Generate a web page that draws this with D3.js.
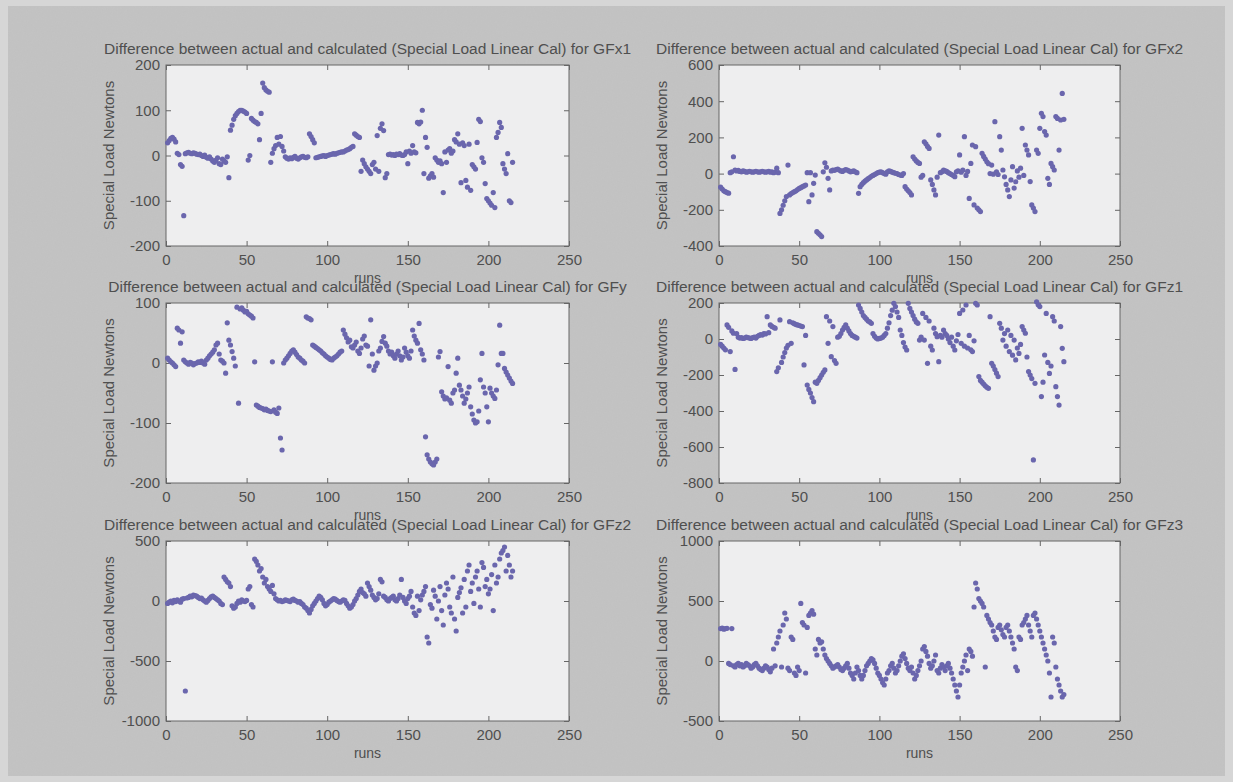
<!DOCTYPE html>
<html>
<head>
<meta charset="utf-8">
<script src="https://cdn.jsdelivr.net/npm/d3@7/dist/d3.min.js"></script>
<style>
  body { margin: 0; background: #d6d6d6; }
  svg { display: block; }
  text { font-family: "Liberation Sans", Arial, sans-serif; fill: #4f4f4f; }
</style>
</head>
<body>
<svg id="fig" width="1233" height="782"></svg>
<script>
// runs go 1..n on the x axis, one value per run
const xTicks = [0, 50, 100, 150, 200, 250];

const gfx1 = [
  28, 33, 38, 40, 36, 30, 5, 2, -20, -24,
  -133, 4, 6, 7, 5, 4, 6, 5, 3, 2,
  3, 0, -2, 1, -4, -6, -3, -8, -12, -15,
  -10, -5, -18, -20, -8, -12, -15, -3, -49, 56,
  67, 80, 88, 93, 97, 100, 100, 98, 96, 93,
  -10, 0, 82, 78, 75, 73, 70, 35, 93, 160,
  150, 145, 142, 140, -15, 5, 15, 22, 40, 25,
  42, 20, 10, -3, -6, -8, -5, -7, -4, -2,
  -6, -8, -5, -3, -2, -4, -5, -3, 48, 42,
  35, 28, -5, -4, -3, -2, -1, 0, -2, 0,
  1, 2, 3, 4, 3, 5, 6, 7, 8, 8,
  10, 12, 13, 15, 18, 20, 48, 45, 42, 40,
  -35, -10, -18, -25, -30, -35, -40, -20, -15, -30,
  44, -35, 60, 70, 55, -49, -40, 2, 3, 1,
  2, 0, 3, 2, 4, 1, 0, 2, 8, -18,
  10, 5, 22, 8, 6, 73, 70, 74, 100, -40,
  40, 18, -50, -45, -40, -48, -5, -10, -15, -12,
  -18, -82, 8, -15, 12, 15, 5, 10, 35, 30,
  48, 25, -60, 28, 22, -55, -70, 25, -77, -20,
  -25, -30, 29, 80, 75, -5, -15, -62, -95, -100,
  -105, -110, -82, -115, 40, 51, 73, 62, -18, -30,
  -40, 4, -100, -104, -15
];

const gfx2 = [
  -75, -85, -95, -100, -105, -108, 5, 10, 93, 20,
  15, 18, 12, 10, 15, 12, 8, 10, 12, 10,
  8, 10, 12, 10, 8, 10, 12, 10, 8, 10,
  12, 8, 10, 5, 8, 30, 5, -220, -200, -175,
  -150, -127, 47, -118, -110, -105, -100, -95, -88, -82,
  -78, -72, -68, -63, 5, -155, 5, -118, -54, -8,
  -321, -330, -338, -348, 10, 60, 35, -26, -90, 15,
  20, 18, 22, 25, 20, 15, 12, 18, 22, 20,
  15, 10, 12, 15, 10, 5, -109, -72, -60, -50,
  -42, -35, -28, -22, -15, -10, -5, 0, 5, 8,
  10, 5, 0, -3, 10, 15, 12, 8, 5, 2,
  0, -5, -8, -10, 0, -72, -85, -95, -105, -118,
  93, 80, 70, 62, 56, -20, -10, 176, 165, 150,
  139, -35, -60, -90, -118, -20, 213, 5, 10, 20,
  15, 12, 5, 0, -5, -10, -17, 10, 15, 103,
  8, 19, 204, -10, 12, -137, 56, 158, -173, 149,
  -190, -200, -210, 112, 95, 80, 65, 55, 0, 47,
  -3, 287, 10, -5, 204, 130, 20, -18, -60, -90,
  -127, -35, 38, -80, -45, 15, -20, 30, 250, -10,
  158, 130, 103, -44, -173, -190, -210, 130, 112, 250,
  333, 315, 232, 213, -26, -60, 56, 38, 20, 315,
  305, 130, 296, 443, 300
];

const gfy = [
  8, 5, 2, 0, -3, -6, 58, 55, 33, 52,
  5, 2, 0, -2, 1, 0, -3, -1, 0, 2,
  1, 3, 0, -2, 5, 8, 12, 15, 18, 22,
  30, 33, 15, 5, 3, 0, -17, 67, 38, 30,
  19, 8, -5, 93, -67, 90, 92, 88, 85, 86,
  82, 80, 78, 75, 2, -70, -72, -74, -75, -76,
  -78, -77, -79, -80, -81, 2, -78, -82, -84, -75,
  -125, -145, 0, 5, 8, 12, 16, 20, 22, 18,
  14, 10, 8, 5, 3, 0, 77, 75, 74, 72,
  30, 28, 26, 24, 22, 20, 17, 15, 12, 10,
  8, 6, 5, 8, 10, 12, 15, 18, 20, 55,
  48, 42, 35, 38, 27, 25, 30, 35, 20, 16,
  25, 40, 45, 30, 28, -5, 72, 15, -12, -5,
  0, 20, 25, 36, 44, 33, 28, 20, 15, 18,
  12, 8, 15, 20, 12, 5, 10, 25, 18, 12,
  8, 20, 55, 45, 38, 33, 66, 22, 15, 5,
  -123, -153, -160, -165, -168, -170, -165, -160, 10, 19,
  -48, -55, -60, -58, -6, -62, -67, -50, -45, -17,
  8, -37, -45, -55, -67, -60, -50, -40, -73, -85,
  -95, -100, -98, -80, -28, 16, -40, -50, -73, -98,
  -42, -50, -55, -59, -45, -3, 63, 16, 16, -9,
  -15, -20, -25, -30, -34
];

const gfz1 = [
  -30, -40, -50, -60, 78, 65, -70, 45, 32, -169,
  30, 10, 5, 8, 3, 5, 10, 8, 5, 3,
  8, 10, 5, 15, 20, 25, 22, 30, 28, 124,
  35, 78, 70, 65, 60, -181, -160, 106, -130, -100,
  -75, -50, -35, 96, -24, 90, 85, 80, 78, 75,
  72, 69, -144, 20, -256, -280, -300, -325, -348, -240,
  -246, -230, -215, -200, -185, -172, 124, -24, 100, -98,
  69, -120, -135, 10, 15, 30, 50, 65, 78, 60,
  45, 30, 20, 15, 10, 5, 189, 170, 150, 130,
  120, 110, 100, 95, 87, 30, 15, 5, 0, 3,
  5, 10, 20, 30, 60, 90, 130, 160, 198, 180,
  150, 120, 50, 20, -20, -45, -61, 198, 170, 150,
  130, 110, 95, 87, -6, 10, 142, -6, 120, -135,
  100, -40, -61, 60, 30, 13, -126, 20, 10, 50,
  30, 20, 0, -20, 10, -40, -61, -10, 25, 142,
  -24, 161, -40, 189, -50, 20, -60, -70, -10, 198,
  189, -209, -230, -240, -250, -260, -268, -274, 124, -135,
  -150, -170, -190, -209, 87, 60, -6, 30, -40, 50,
  -70, 20, -90, -6, -116, -50, -80, -30, 69, 50,
  32, -100, -181, -200, -220, -672, -246, 207, 190, 180,
  -320, -240, -89, 142, -130, -191, -150, 124, 100, -265,
  -320, -367, 69, -52, -126
];

const gfz2 = [
  -20, -10, 0, -15, 5, -5, 10, 0, -10, 15,
  20, -750, 25, 30, 40, 35, 50, 45, 40, 30,
  20, 25, 10, 0, -10, 5, 20, 35, 40, 30,
  20, 10, 0, -20, -30, 200, 180, 160, 150, 120,
  -40, -60, -50, -20, 0, -10, 10, 0, -5, 5,
  100, 120, -30, -50, 350, 330, 300, 250, 270, 200,
  150, 180, 120, 100, 80, 130, 60, 20, 10, 0,
  5, -5, 0, 10, 5, 0, -5, 10, 15, 5,
  0, -10, -5, -20, -30, -50, -60, -80, -100, -70,
  -40, -20, 0, 20, 40, 30, 10, -20, -40, -30,
  -10, 0, 10, 20, 15, 5, -5, -10, 0, 10,
  5, -20, -40, -60, -50, -30, 0, 20, 50, 80,
  100, 70, 60, 40, 150, 120, 90, 50, 30, 10,
  20, 60, 180, 160, 40, 30, 10, 0, 20, 30,
  40, 10, 0, 20, 50, 180, 30, 0, -20, 20,
  40, 80, -50, -100, -120, 40, -80, 10, 50, 80,
  120, -300, -350, -30, -60, 90, 40, -150, 0, 120,
  -80, -200, 50, 150, 100, -50, -100, 200, -150, -250,
  30, 70, 110, -100, 180, -50, 250, 300, 80, 150,
  -20, 200, 250, 100, -50, 320, 280, 120, 180, 60,
  100, 220, -80, 300, 150, 200, 350, 400, 420, 450,
  250, 380, 300, 200, 250
];

const gfz3 = [
  270, 275, 265, 270, 272, -20, -30, 270, -40, -50,
  -30, -20, -40, -30, -50, -40, -20, -30, -40, -60,
  -50, -30, -20, -40, -60, -70, -80, -60, -40, -50,
  -70, -90, -60, 100, -40, 150, 200, 250, -50, 300,
  400, 350, -60, -80, 200, 180, -100, -120, -50, -80,
  480, 320, 300, -100, 280, 380, 400, 420, 390, 100,
  50, 180, 150, 160, 100, 50, 20, 0, -20, -40,
  -60, -50, -40, -30, -50, -70, -80, -60, -40, -20,
  -60, -100, -120, -150, -100, -50, -80, -120, -150, -120,
  -80, -40, -20, 0, 20, 10, -20, -60, -100, -120,
  -150, -180, -200, -150, -100, -80, -40, -20, -60, -100,
  -80, -40, 0, 40, 60, 20, -20, -60, -80, -50,
  -100, -150, -120, -80, -40, 0, 100, 120, 80, 40,
  -20, -60, -40, 0, 50, -80, -100, -60, -30, -50,
  -80, -40, -20, -60, -100, -150, -200, -250, -300, -200,
  -100, -50, 0, 50, -80, 100, 80, 40, 450, 650,
  600, 520, 500, 480, 450, -50, 380, 350, 320, 300,
  250, 200, 180, 280, 300, 260, 220, 200, 280, 300,
  250, 200, 150, 100, -50, -80, 200, 180, 300, 320,
  350, 380, 300, 250, 200, 380, 400, 350, 300, 250,
  200, 150, 100, 50, 0, -100, -300, 200, 150, -50,
  -150, -200, -250, -300, -280
];

const names = ["GFx1", "GFx2", "GFy", "GFz1", "GFz2", "GFz3"];
const series = [gfx1, gfx2, gfy, gfz1, gfz2, gfz3];
const yDomains = [[-200, 200], [-400, 600], [-200, 100], [-800, 200], [-1000, 500], [-500, 1000]];
const yTickSets = [
  [-200, -100, 0, 100, 200],
  [-400, -200, 0, 200, 400, 600],
  [-200, -100, 0, 100],
  [-800, -600, -400, -200, 0, 200],
  [-1000, -500, 0, 500],
  [-500, 0, 500, 1000]
];

const svg = d3.select("#fig");

// scan grain for the gray figure area
const defs = svg.append("defs");
const grain = defs.append("filter").attr("id", "grain")
  .attr("x", 0).attr("y", 0).attr("width", 1).attr("height", 1);
grain.append("feTurbulence")
  .attr("type", "fractalNoise").attr("baseFrequency", 0.8)
  .attr("numOctaves", 2).attr("seed", 3).attr("result", "n");
grain.append("feColorMatrix").attr("in", "n").attr("type", "matrix")
  .attr("values", "0 0 0 0 0.45  0 0 0 0 0.45  0 0 0 0 0.45  0.9 0 0 0 -0.2");

svg.append("rect")
  .attr("x", 8).attr("y", 6)
  .attr("width", 1217).attr("height", 770)
  .attr("fill", "#c3c3c3");
svg.append("rect")
  .attr("x", 8).attr("y", 6)
  .attr("width", 1217).attr("height", 770)
  .attr("filter", "url(#grain)")
  .attr("opacity", 0.18);

const colX = [166, 719];
const colW = [403, 401];
const rowY = [65, 303, 541];
const rowH = [181, 180, 180];
const plain = d => String(d);

series.forEach((values, i) => {
  const col = i % 2, row = Math.floor(i / 2);
  const w = colW[col], h = rowH[row];
  const g = svg.append("g")
    .attr("transform", `translate(${colX[col]},${rowY[row]})`);

  const x = d3.scaleLinear().domain([0, 250]).range([0, w]);
  const y = d3.scaleLinear().domain(yDomains[i]).range([h, 0]);

  g.append("rect")
    .attr("width", w).attr("height", h)
    .attr("fill", "#eeeeef");

  g.append("g")
    .attr("transform", `translate(0,${h})`)
    .call(d3.axisBottom(x).tickValues(xTicks).tickFormat(plain).tickSize(-5).tickSizeOuter(0).tickPadding(8));
  g.append("g")
    .call(d3.axisTop(x).tickValues(xTicks).tickSize(-5).tickSizeOuter(0).tickFormat(""));
  g.append("g")
    .call(d3.axisLeft(y).tickValues(yTickSets[i]).tickFormat(plain).tickSize(-5).tickSizeOuter(0).tickPadding(6));
  g.append("g")
    .attr("transform", `translate(${w},0)`)
    .call(d3.axisRight(y).tickValues(yTickSets[i]).tickSize(-5).tickSizeOuter(0).tickFormat(""));

  g.selectAll(".domain").remove();
  g.selectAll(".tick line").attr("stroke", "#666");
  g.selectAll(".tick text")
    .style("font-size", "15px")
    .attr("fill", "#4f4f4f");

  g.append("rect")
    .attr("width", w).attr("height", h)
    .attr("fill", "none")
    .attr("stroke", "#666")
    .attr("stroke-width", 1);

  g.selectAll("circle")
    .data(values)
    .join("circle")
    .attr("cx", (d, k) => x(k + 1))
    .attr("cy", d => y(d))
    .attr("r", 2.6)
    .attr("fill", "#6a66ad");

  g.append("text")
    .attr("x", w / 2).attr("y", h + 37)
    .attr("text-anchor", "middle")
    .style("font-size", "14px")
    .text("runs");

  g.append("text")
    .attr("transform", `translate(-52,${h / 2}) rotate(-90)`)
    .attr("text-anchor", "middle")
    .style("font-size", "15px")
    .text("Special Load Newtons");

  g.append("text")
    .attr("x", w / 2).attr("y", -11)
    .attr("text-anchor", "middle")
    .style("font-size", "15.5px")
    .text(`Difference between actual and calculated (Special Load Linear Cal) for ${names[i]}`);
});
</script>
</body>
</html>
